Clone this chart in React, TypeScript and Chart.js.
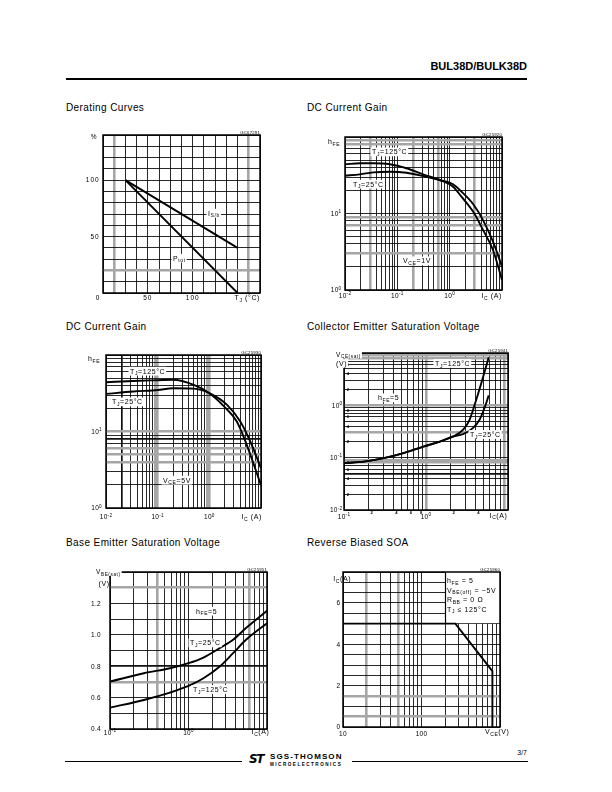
import React, { useEffect, useRef } from "react";
import { Chart, registerables } from "chart.js";

Chart.register(...registerables);

const FONT = '"Liberation Sans", Arial, Helvetica, sans-serif';

/* ===================== DATA ===================== */
// Derating curves (% vs Tj)
const deratingTemp = [25, 150];
const deratingIsb = [100, 40];
const deratingPtot = [100, 0];
const deratingXTickValues = [0, 50, 100];
const deratingXTickLabels = ["0", "50", "100"];
const deratingYTickValues = [50, 100];
const deratingYTickLabels = ["50", "100"];

// DC current gain, VCE = 1 V
const gain1Ic = [0.01, 0.0193, 0.0347, 0.072, 0.15, 0.311, 0.648, 1.16, 1.68, 2.8, 4.34, 6.73, 10];
const gain1Hfe125 = [44.0, 45.3, 45.3, 44.0, 39.0, 32.5, 27.4, 22.4, 16.6, 10.6, 6.1, 3.33, 1.35];
const gain1Hfe25 = [31.2, 32.5, 34.5, 35.2, 34.1, 30.9, 27.4, 24.1, 19.3, 13.3, 8.2, 4.28, 2.02];

// DC current gain, VCE = 5 V
const gain5Ic125 = [0.01, 0.034, 0.1, 0.2, 0.5, 1, 1.9, 3.4, 5.3, 10];
const gain5Hfe125 = [44, 45.8, 46.8, 47.4, 40.6, 31.7, 21.5, 13.5, 6.7, 1.98];
const gain5Ic25 = [0.01, 0.034, 0.1, 0.2, 0.5, 1, 2.2, 3.97, 6.2, 10];
const gain5Hfe25 = [31, 33.3, 34.9, 36.7, 36.3, 31.7, 22.3, 13.5, 7.4, 3.3];

const gainXTickValues = [0.01, 0.1, 1];
const gainXTickLabels = ["10^{-2}", "10^{-1}", "10^{0}"];
const gainYTickValues = [1, 10];
const gainYTickLabels = ["10^{0}", "10^{1}"];

// Collector emitter saturation voltage, hFE = 5
const vceIc25 = [0.1, 0.175, 0.305, 0.532, 0.927, 1.476, 2.14, 2.82, 3.73, 4.5, 5.17, 5.82];
const vce25 = [0.0785, 0.0841, 0.0978, 0.122, 0.163, 0.203, 0.254, 0.282, 0.367, 0.53, 0.888, 1.55];
const vceIc125 = [0.1, 0.175, 0.305, 0.532, 0.927, 1.476, 2.14, 2.82, 3.4, 4.1, 4.93, 5.82];
const vce125 = [0.0785, 0.0841, 0.0978, 0.122, 0.163, 0.203, 0.254, 0.341, 0.53, 1.28, 3.33, 8.27];
const vceXTickValues = [0.1, 1];
const vceXTickLabels = ["10^{-1}", "10^{0}"];
const vceYTickValues = [0.01, 0.1, 1];
const vceYTickLabels = ["10^{-2}", "10^{-1}", "10^{0}"];
const vceXMinorValues = [0.2, 0.4, 0.6, 0.8, 2, 4];
const vceXMinorLabels = ["2", "4", "6", "8", "2", "4"];
const vceYMinorValues = [0.02, 0.04, 0.06, 0.08, 0.2, 0.4, 0.6, 0.8, 2, 4, 6];
const vceYMinorLabels = ["2", "4", "6", "8", "2", "4", "6", "8", "2", "4", "6"];

// Base emitter saturation voltage, hFE = 5
const vbeIc = [0.1, 0.27, 0.58, 1, 1.55, 2.5, 3.7, 5.4, 10];
const vbe25 = [0.702, 0.755, 0.787, 0.819, 0.855, 0.915, 0.968, 1.043, 1.153];
const vbe125 = [0.536, 0.585, 0.632, 0.674, 0.723, 0.798, 0.883, 0.968, 1.074];
const vbeXTickValues = [0.1, 1];
const vbeXTickLabels = ["10^{-1}", "10^{0}"];
const vbeYTickValues = [0.4, 0.6, 0.8, 1.0, 1.2];
const vbeYTickLabels = ["0.4", "0.6", "0.8", "1.0", "1.2"];

// Reverse biased SOA
const soaVce = [10, 270, 800, 800];
const soaIc = [5, 5, 2.7, 0];
const soaXTickValues = [10, 100];
const soaXTickLabels = ["10", "100"];
const soaYTickValues = [0, 2, 4, 6];
const soaYTickLabels = ["0", "2", "4", "6"];
const soaNoteFromVce = 200;
const soaNoteToIc = 5;

/* ===================== HELPERS ===================== */
type Seg = { t: string; k: "n" | "sub" | "sup" };

function parseRich(s: string): Seg[] {
  const segs: Seg[] = [];
  let buf = "";
  let i = 0;
  while (i < s.length) {
    const c = s[i];
    if ((c === "_" || c === "^") && s[i + 1] === "{") {
      if (buf) {
        segs.push({ t: buf, k: "n" });
        buf = "";
      }
      const end = s.indexOf("}", i + 2);
      segs.push({ t: s.slice(i + 2, end), k: c === "_" ? "sub" : "sup" });
      i = end + 1;
    } else {
      buf += c;
      i++;
    }
  }
  if (buf) segs.push({ t: buf, k: "n" });
  return segs;
}

type RichOpt = { size?: number; align?: "left" | "right" | "center"; bg?: boolean; ls?: number; bold?: boolean };

function drawRich(ctx: any, s: string, x: number, y: number, o: RichOpt) {
  const size = o.size ?? 7;
  const ls = o.ls ?? 0.6;
  const segs = parseRich(s);
  const fontFor = (k: string) => `${o.bold ? "bold " : ""}${k === "n" ? size : size * 0.72}px ${FONT}`;
  ctx.save();
  try {
    ctx.letterSpacing = `${ls}px`;
  } catch (e) {}
  let w = 0;
  const widths = segs.map((sg) => {
    ctx.font = fontFor(sg.k);
    const m = ctx.measureText(sg.t).width;
    w += m;
    return m;
  });
  const align = o.align ?? "left";
  let sx = align === "left" ? x : align === "right" ? x - w : x - w / 2;
  if (o.bg) {
    ctx.fillStyle = "#fff";
    ctx.fillRect(sx - 1.5, y - size * 0.6, w + 2.5, size * 1.25);
  }
  ctx.fillStyle = "#000";
  ctx.textAlign = "left";
  ctx.textBaseline = "alphabetic";
  const base = y + size * 0.36;
  segs.forEach((sg, i) => {
    ctx.font = fontFor(sg.k);
    const dy = sg.k === "sub" ? size * 0.25 : sg.k === "sup" ? -size * 0.42 : 0;
    ctx.fillText(sg.t, sx, base + dy);
    sx += widths[i];
  });
  ctx.restore();
}

function linGrid(min: number, max: number, step: number) {
  const out: number[] = [];
  for (let v = min; v <= max + 1e-9; v += step) out.push(Number(v.toFixed(6)));
  return out;
}

function logGrid(minE: number, maxE: number) {
  const out: number[] = [];
  for (let e = minE; e < maxE; e++) {
    for (let m = 1; m <= 9; m++) out.push(Number((m * Math.pow(10, e)).toPrecision(6)));
  }
  out.push(Math.pow(10, maxE));
  return out;
}

const near = (list: number[], v: number) => list.some((g) => Math.abs(g - v) <= Math.abs(g) * 1e-6 + 1e-9);

type AxisSpec = { type: "linear" | "logarithmic"; min: number; max: number; grid: number[]; gray?: number[]; thick?: number[] };

function axisOptions(a: AxisSpec) {
  const gray = a.gray ?? [];
  const thick = a.thick ?? [];
  return {
    type: a.type,
    min: a.min,
    max: a.max,
    display: true,
    border: { display: false },
    ticks: { display: false },
    grid: {
      drawTicks: false,
      color: (c: any) => (c.tick && near(gray, c.tick.value) ? "#a6a6a6" : "#111"),
      lineWidth: (c: any) => {
        if (!c.tick) return 1;
        if (near(gray, c.tick.value)) return 2.6;
        if (near(thick, c.tick.value)) return 1.7;
        return 0.9;
      },
    },
    afterBuildTicks: (scale: any) => {
      scale.ticks = a.grid.map((v) => ({ value: v }));
    },
  };
}

type Tick = { v: number; t: string; dx?: number };
type Note = { x: number; y: number; t: string; align?: "left" | "right" | "center"; bg?: boolean; size?: number };
type Spec = {
  box: { x: number; y: number; w: number; h: number };
  plot: { l: number; t: number; r: number; b: number };
  xAxis: AxisSpec;
  yAxis: AxisSpec;
  series: { xs: number[]; ys: number[]; tension: number }[];
  xTicks: Tick[];
  yTicks: Tick[];
  xDy: number;
  yGap: number;
  tickSize: number;
  tickLs: number;
  xMinor?: Tick[];
  yMinor?: Tick[];
  notes: Note[];
  code: string;
  whiteBox?: { fromX: number; toY: number };
};

const zipTicks = (vals: number[], labels: string[], dxs?: number[]): Tick[] =>
  vals.map((v, i) => ({ v, t: labels[i], dx: dxs ? dxs[i] : 0 }));

function buildConfig(spec: Spec): any {
  const { box, plot } = spec;
  const decor = {
    id: "decor",
    beforeDatasetsDraw(chart: any) {
      if (!spec.whiteBox) return;
      const ctx = chart.ctx;
      const a = chart.chartArea;
      const x0 = chart.scales.x.getPixelForValue(spec.whiteBox.fromX);
      const y1 = chart.scales.y.getPixelForValue(spec.whiteBox.toY);
      ctx.save();
      ctx.fillStyle = "#fff";
      ctx.fillRect(x0, a.top, a.right - x0, y1 - a.top - 0.5);
      ctx.strokeStyle = "#000";
      ctx.lineWidth = 1.2;
      ctx.beginPath();
      ctx.moveTo(Math.round(x0) + 0.5, a.top);
      ctx.lineTo(Math.round(x0) + 0.5, y1);
      ctx.stroke();
      ctx.restore();
    },
    afterDraw(chart: any) {
      const ctx = chart.ctx;
      const a = chart.chartArea;
      const xs = chart.scales.x;
      const ys = chart.scales.y;
      ctx.save();
      ctx.strokeStyle = "#000";
      ctx.lineWidth = 1.5;
      ctx.strokeRect(a.left, a.top, a.right - a.left, a.bottom - a.top);
      ctx.restore();
      spec.xTicks.forEach((tk) =>
        drawRich(ctx, tk.t, xs.getPixelForValue(tk.v) + (tk.dx || 0), a.bottom + spec.xDy, {
          size: spec.tickSize,
          align: "center",
          ls: spec.tickLs,
        })
      );
      spec.yTicks.forEach((tk) =>
        drawRich(ctx, tk.t, a.left - spec.yGap, ys.getPixelForValue(tk.v), {
          size: spec.tickSize,
          align: "right",
          ls: spec.tickLs,
        })
      );
      (spec.xMinor ?? []).forEach((tk) =>
        drawRich(ctx, tk.t, xs.getPixelForValue(tk.v) + (tk.dx || 0), a.bottom + 2.8, {
          size: 4.2,
          align: "center",
          ls: 0,
          bold: true,
        })
      );
      (spec.yMinor ?? []).forEach((tk) =>
        drawRich(ctx, tk.t, a.left + 4, ys.getPixelForValue(tk.v), { size: 4.2, align: "center", ls: 0, bold: true })
      );
      spec.notes.forEach((n) =>
        drawRich(ctx, n.t, n.x - box.x, n.y - box.y, { size: n.size ?? 7, align: n.align ?? "left", bg: n.bg, ls: 0.6 })
      );
      drawRich(ctx, spec.code, a.right, a.top - 3, { size: 4.3, align: "right", ls: 0.2 });
    },
  };
  return {
    type: "line",
    data: {
      datasets: spec.series.map((s) => ({
        data: s.xs.map((x, i) => ({ x, y: s.ys[i] })),
        borderColor: "#000",
        borderWidth: 1.9,
        pointRadius: 0,
        fill: false,
        tension: s.tension,
        cubicInterpolationMode: s.tension > 0 ? "monotone" : "default",
      })),
    },
    options: {
      animation: false,
      responsive: false,
      maintainAspectRatio: false,
      devicePixelRatio: 1,
      events: [],
      layout: {
        padding: {
          left: plot.l - box.x,
          top: plot.t - box.y,
          right: box.x + box.w - plot.r,
          bottom: box.y + box.h - plot.b,
        },
      },
      plugins: { legend: { display: false }, tooltip: { enabled: false }, title: { display: false } },
      scales: { x: axisOptions(spec.xAxis), y: axisOptions(spec.yAxis) },
    },
    plugins: [decor],
  };
}

/* ===================== CHART SPECS ===================== */
const specs: Spec[] = [
  {
    box: { x: 68, y: 125, w: 207, h: 182 },
    plot: { l: 103, t: 135, r: 260, b: 293 },
    xAxis: { type: "linear", min: 0, max: 175, grid: linGrid(0, 175, 12.5), gray: [12.5, 162.5] },
    yAxis: { type: "linear", min: 0, max: 140, grid: linGrid(0, 140, 10), gray: [20] },
    series: [
      { xs: deratingTemp, ys: deratingIsb, tension: 0 },
      { xs: deratingTemp, ys: deratingPtot, tension: 0 },
    ],
    xTicks: zipTicks(deratingXTickValues, deratingXTickLabels, [-5, 0, 0]),
    yTicks: zipTicks(deratingYTickValues, deratingYTickLabels),
    xDy: 4.3,
    yGap: 3.3,
    tickSize: 6.5,
    tickLs: 1.0,
    notes: [
      { x: 94, y: 137, t: "%", align: "center", size: 6.5 },
      { x: 260, y: 297.3, t: "T_{J} (°C)", align: "right" },
      { x: 208, y: 213, t: "I_{S/b}", bg: true },
      { x: 173, y: 258, t: "P_{tot}", bg: true },
    ],
    code: "GC67291",
  },
  {
    box: { x: 310, y: 125, w: 210, h: 182 },
    plot: { l: 345, t: 137, r: 502, b: 290 },
    xAxis: { type: "logarithmic", min: 0.01, max: 10, grid: logGrid(-2, 1), gray: [0.03, 0.2, 0.6, 3] },
    yAxis: { type: "logarithmic", min: 1, max: 100, grid: logGrid(0, 2), gray: [80, 90, 9, 7, 3] },
    series: [
      { xs: gain1Ic, ys: gain1Hfe125, tension: 0.4 },
      { xs: gain1Ic, ys: gain1Hfe25, tension: 0.4 },
    ],
    xTicks: zipTicks(gainXTickValues, gainXTickLabels),
    yTicks: zipTicks(gainYTickValues, gainYTickLabels),
    xDy: 5.3,
    yGap: 3.5,
    tickSize: 6.5,
    tickLs: 0.3,
    notes: [
      { x: 328, y: 141.7, t: "h_{FE}" },
      { x: 502, y: 295.3, t: "I_{C} (A)", align: "right" },
      { x: 372, y: 151.7, t: "T_{J}=125°C", bg: true },
      { x: 353, y: 184, t: "T_{J}=25°C", bg: true },
      { x: 403, y: 260.7, t: "V_{CE}=1V", bg: true },
    ],
    code: "GC25920",
  },
  {
    box: { x: 68, y: 340, w: 207, h: 185 },
    plot: { l: 106, t: 355, r: 261, b: 508 },
    xAxis: { type: "logarithmic", min: 0.01, max: 10, grid: logGrid(-2, 1), gray: [0.09, 0.1, 0.9, 1], thick: [0.02] },
    yAxis: { type: "logarithmic", min: 1, max: 100, grid: logGrid(0, 2), gray: [10, 6, 5, 4], thick: [8] },
    series: [
      { xs: gain5Ic125, ys: gain5Hfe125, tension: 0.4 },
      { xs: gain5Ic25, ys: gain5Hfe25, tension: 0.4 },
    ],
    xTicks: zipTicks(gainXTickValues, gainXTickLabels),
    yTicks: zipTicks(gainYTickValues, gainYTickLabels),
    xDy: 9,
    yGap: 4,
    tickSize: 6.5,
    tickLs: 0.3,
    notes: [
      { x: 88, y: 358.3, t: "h_{FE}" },
      { x: 262, y: 516.7, t: "I_{C} (A)", align: "right" },
      { x: 130, y: 371, t: "T_{J}=125°C", bg: true },
      { x: 112, y: 401.7, t: "T_{J}=25°C", bg: true },
      { x: 163, y: 480, t: "V_{CE}=5V", bg: true },
    ],
    code: "GC25930",
  },
  {
    box: { x: 310, y: 340, w: 210, h: 185 },
    plot: { l: 344, t: 353, r: 508, b: 510 },
    xAxis: { type: "logarithmic", min: 0.1, max: 10, grid: logGrid(-1, 1), gray: [1, 9] },
    yAxis: { type: "logarithmic", min: 0.01, max: 10, grid: logGrid(-2, 1), gray: [1, 0.09, 0.08, 8, 9, 0.3], thick: [0.05] },
    series: [
      { xs: vceIc125, ys: vce125, tension: 0.4 },
      { xs: vceIc25, ys: vce25, tension: 0.4 },
    ],
    xTicks: zipTicks(vceXTickValues, vceXTickLabels),
    yTicks: zipTicks(vceYTickValues, vceYTickLabels),
    xDy: 6.7,
    yGap: 1.5,
    tickSize: 6.5,
    tickLs: 0.3,
    xMinor: zipTicks(vceXMinorValues, vceXMinorLabels, vceXMinorValues.map(() => 3)),
    yMinor: zipTicks(vceYMinorValues, vceYMinorLabels),
    notes: [
      { x: 336, y: 354.3, t: "V_{CE(sat)}", bg: true, size: 6.5 },
      { x: 336, y: 363.3, t: "(V)", bg: true },
      { x: 507.5, y: 515, t: "I_{C}(A)", align: "right" },
      { x: 435, y: 363.3, t: "T_{J}=125°C", bg: true },
      { x: 378, y: 397.7, t: "h_{FE}=5", bg: true },
      { x: 470, y: 434.3, t: "T_{J}=25°C", bg: true },
    ],
    code: "GC25941",
  },
  {
    box: { x: 68, y: 560, w: 207, h: 185 },
    plot: { l: 110, t: 572, r: 267, b: 729 },
    xAxis: { type: "logarithmic", min: 0.1, max: 10, grid: logGrid(-1, 1), gray: [0.4, 6] },
    yAxis: { type: "linear", min: 0.4, max: 1.4, grid: linGrid(0.4, 1.4, 0.1), gray: [1.3, 0.7], thick: [0.8] },
    series: [
      { xs: vbeIc, ys: vbe25, tension: 0.4 },
      { xs: vbeIc, ys: vbe125, tension: 0.4 },
    ],
    xTicks: zipTicks(vbeXTickValues, vbeXTickLabels),
    yTicks: zipTicks(vbeYTickValues, vbeYTickLabels),
    xDy: 3.5,
    yGap: 9,
    tickSize: 6.5,
    tickLs: 0.3,
    notes: [
      { x: 96, y: 571.7, t: "V_{BE(sat)}", bg: true, size: 6.5 },
      { x: 98.5, y: 583.3, t: "(V)" },
      { x: 269.5, y: 731.7, t: "I_{C}(A)", align: "right" },
      { x: 196, y: 611, t: "h_{FE}=5", bg: true },
      { x: 190, y: 642.7, t: "T_{J}=25°C", bg: true },
      { x: 193, y: 689.3, t: "T_{J}=125°C", bg: true },
    ],
    code: "GC25951",
  },
  {
    box: { x: 310, y: 560, w: 210, h: 185 },
    plot: { l: 343, t: 572, r: 500, b: 727 },
    xAxis: { type: "logarithmic", min: 10, max: 1000, grid: logGrid(1, 3), gray: [20, 50] },
    yAxis: { type: "linear", min: 0, max: 7.5, grid: linGrid(0, 7.5, 0.5), gray: [0.5, 1.5] },
    series: [{ xs: soaVce, ys: soaIc, tension: 0 }],
    xTicks: zipTicks(soaXTickValues, soaXTickLabels),
    yTicks: zipTicks(soaYTickValues, soaYTickLabels),
    xDy: 6.7,
    yGap: 2.7,
    tickSize: 6.5,
    tickLs: 0.3,
    notes: [
      { x: 333.3, y: 578.3, t: "I_{C}(A)" },
      { x: 509.5, y: 731.7, t: "V_{CE}(V)", align: "right" },
      { x: 447, y: 580.7, t: "h_{FE} = 5" },
      { x: 447, y: 590, t: "V_{BE(off)} = −5V" },
      { x: 447, y: 599.3, t: "R_{BB} = 0 Ω" },
      { x: 447, y: 609, t: "T_{J} ≤ 125°C" },
    ],
    code: "GC25960",
    whiteBox: { fromX: soaNoteFromVce, toY: soaNoteToIc },
  },
];

const titles = [
  { x: 66, y: 103.2, t: "Derating Curves" },
  { x: 307, y: 103.2, t: "DC Current Gain" },
  { x: 66, y: 322.2, t: "DC Current Gain" },
  { x: 307, y: 322.2, t: "Collector Emitter Saturation Voltage" },
  { x: 66, y: 538.2, t: "Base Emitter Saturation Voltage" },
  { x: 307, y: 538.2, t: "Reverse Biased SOA" },
];

/* ===================== COMPONENTS ===================== */
function PlotCanvas({ spec }: { spec: Spec }) {
  const ref = useRef<HTMLCanvasElement>(null);
  useEffect(() => {
    const chart = new Chart(ref.current as HTMLCanvasElement, buildConfig(spec));
    return () => chart.destroy();
  }, [spec]);
  return (
    <canvas
      ref={ref}
      width={spec.box.w}
      height={spec.box.h}
      style={{ position: "absolute", left: spec.box.x, top: spec.box.y, width: spec.box.w, height: spec.box.h }}
    />
  );
}

export default function App() {
  return (
    <div
      style={{
        position: "absolute",
        left: 0,
        top: 0,
        width: 612,
        height: 792,
        background: "#fff",
        overflow: "hidden",
        fontFamily: FONT,
        color: "#000",
      }}
    >
      <div
        style={{
          position: "absolute",
          right: 612 - 527,
          top: 61.4,
          fontWeight: "bold",
          fontSize: 11,
          lineHeight: "11px",
          whiteSpace: "nowrap",
        }}
      >
        BUL38D/BULK38D
      </div>
      <div style={{ position: "absolute", left: 66, top: 78.4, width: 461, height: 1.3, background: "#000" }} />

      {titles.map((t, i) => (
        <div
          key={i}
          style={{
            position: "absolute",
            left: t.x,
            top: t.y,
            fontSize: 10,
            lineHeight: "10px",
            letterSpacing: "0.4px",
            whiteSpace: "nowrap",
          }}
        >
          {t.t}
        </div>
      ))}

      {specs.map((s, i) => (
        <PlotCanvas key={i} spec={s} />
      ))}

      {/* footer */}
      <div style={{ position: "absolute", left: 65, top: 761.3, width: 177, height: 1, background: "#000" }} />
      <div style={{ position: "absolute", left: 352, top: 761.3, width: 176, height: 1, background: "#000" }} />
      <div
        style={{
          position: "absolute",
          left: 249,
          top: 753,
          fontFamily: '"DejaVu Sans", sans-serif',
          fontWeight: 900,
          fontStyle: "italic",
          fontSize: 12,
          lineHeight: "12px",
          letterSpacing: "-1.5px",
          whiteSpace: "nowrap",
        }}
      >
        ST
      </div>
      <div
        style={{
          position: "absolute",
          left: 270,
          top: 753.3,
          fontWeight: "bold",
          fontSize: 8,
          lineHeight: "8px",
          letterSpacing: "1.1px",
          whiteSpace: "nowrap",
        }}
      >
        SGS-THOMSON
      </div>
      <div
        style={{
          position: "absolute",
          left: 270,
          top: 761.5,
          fontWeight: "bold",
          fontSize: 4.6,
          lineHeight: "5px",
          letterSpacing: "1.5px",
          whiteSpace: "nowrap",
        }}
      >
        MICROELECTRONICS
      </div>
      <div
        style={{
          position: "absolute",
          right: 612 - 527,
          top: 749,
          fontSize: 7,
          lineHeight: "7px",
          whiteSpace: "nowrap",
        }}
      >
        3/7
      </div>
    </div>
  );
}
